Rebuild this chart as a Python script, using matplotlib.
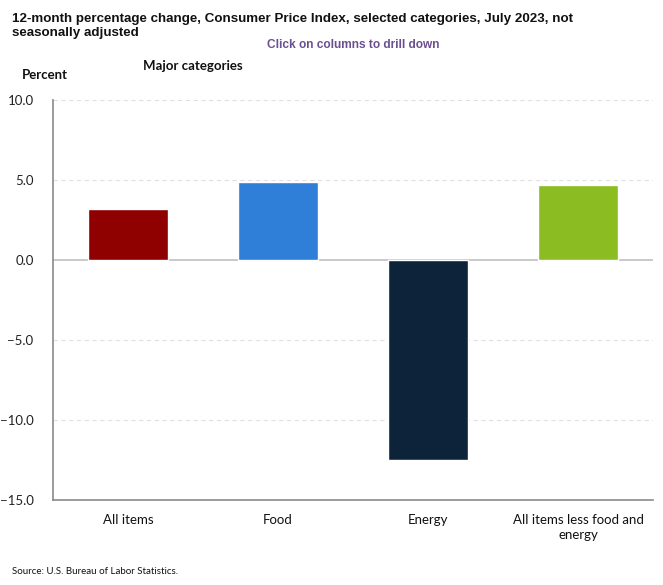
import matplotlib
matplotlib.use("Agg")
import matplotlib.pyplot as plt

categories = ["All items", "Food", "Energy", "All items less food and\nenergy"]
values = [3.2, 4.9, -12.5, 4.7]
colors = ["#8f0000", "#2f7ed8", "#0d233a", "#8bbc21"]
yticks = [10.0, 5.0, 0.0, -5.0, -10.0, -15.0]

W, H = 663, 585
fig = plt.figure(figsize=(W / 100, H / 100), dpi=100)
L, R, T, B = 53, 653, 100, 500
ax = fig.add_axes([L / W, 1 - B / H, (R - L) / W, (B - T) / H])

x = list(range(len(categories)))
ax.bar(x, values, width=0.53, color=colors, edgecolor="white", linewidth=1.0, zorder=3)
ax.set_xlim(-0.5, len(categories) - 0.5)
ax.set_ylim(-15, 10)
ax.set_yticks(yticks)
ax.set_yticklabels([f"{v:.1f}".replace("-", "\u2212") for v in yticks], family="Lato", fontsize=9.5, color="#222222")
ax.set_xticks(x)
ax.set_xticklabels(categories, family="Lato", fontsize=9.5, color="#111111", linespacing=1.3)
ax.tick_params(axis="both", length=0)
ax.tick_params(axis="y", pad=14)
ax.tick_params(axis="x", pad=10)
for v in yticks:
    if v not in (0.0, -15.0):
        ax.axhline(v, color="#e0e0e0", linestyle=(0, (4, 3)), linewidth=0.8, zorder=1)
ax.axhline(0, color="#c0c0c0", linewidth=1.2, zorder=2)
for s in ["top", "right"]:
    ax.spines[s].set_visible(False)
ax.spines["left"].set_color("#8a8a8a")
ax.spines["bottom"].set_color("#8a8a8a")
ax.spines["left"].set_linewidth(1.2)
ax.spines["bottom"].set_linewidth(1.2)

fig.text(12 / W, 1 - 26 / H, "12-month percentage change, Consumer Price Index, selected categories, July 2023, not\nseasonally adjusted",
         family="Liberation Sans", fontweight="bold", fontsize=9.6, va="center", ha="left", linespacing=1.32, color="#111111")
fig.text(353 / W, 1 - 45 / H, "Click on columns to drill down", family="Liberation Sans", fontweight="bold",
         fontsize=8.6, color="#6b5090", ha="center", va="center")
fig.text(143 / W, 1 - 66 / H, "Major categories", family="Lato", fontweight="bold", fontsize=9.5,
         color="#111111", ha="left", va="center")
fig.text(22 / W, 1 - 75 / H, "Percent", family="Lato", fontweight="bold", fontsize=9.5,
         color="#111111", ha="left", va="center")
fig.text(12 / W, 1 - 572 / H, "Source: U.S. Bureau of Labor Statistics.", family="Lato", fontsize=7,
         color="#111111", ha="left", va="center")

fig.savefig("out.png", dpi=100)
